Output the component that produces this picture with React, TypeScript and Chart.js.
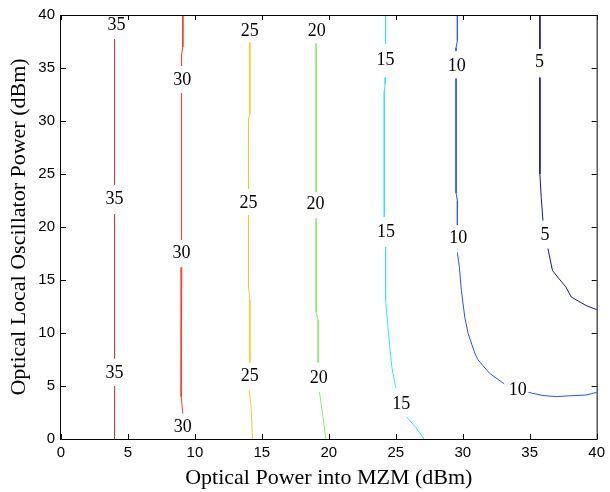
import { useEffect, useRef } from "react";
import { Chart, registerables } from "chart.js";

Chart.register(...registerables);

// contour levels and their colours (MATLAB jet-like)
const levels = [35, 30, 25, 20, 15, 10, 5];
const levelColors = ["#a84c4c", "#ff3a2a", "#ffc820", "#8ee86a", "#38e4f4", "#2a50ff", "#14149c"];

// contour lines: x / y values, null separates segments (gaps for labels)
const c35x = [4.0, 4.0, null, 4.0, 4.0, null, 4.0, 4.0];
const c35y = [37.7, 24.0, null, 21.2, 7.6, null, 5.0, 0];

const c30x = [9.1, 9.1, 9.0, 9.0, null, 9.0, 9.0, null, 9.02, 8.97, 9.1];
const c30y = [40, 37.0, 36.2, 35.2, null, 32.6, 18.8, null, 16.2, 4.0, 2.4];

const c25x = [14.1, 14.1, 14.0, 14.0, null, 14.0, 14.0, 14.1, 14.1, null, 14.05, 14.2, 14.3];
const c25y = [37.4, 30.7, 30.2, 23.6, null, 21.1, 14.4, 13.1, 7.2, null, 4.6, 3.0, 0];

const c20x = [19.05, 19.05, null, 19.05, 19.05, 19.2, 19.2, null, 19.3, 19.55, 19.78];
const c20y = [37.3, 23.3, null, 20.8, 12.0, 11.2, 7.2, null, 4.45, 2.2, 0];

const c15x = [24.24, 24.24, null, 24.24, 24.2, 24.14, 24.14, null, 24.24, 24.24, 24.46, 24.7, 25.0, null, 25.8, 26.45, 27.1];
const c15y = [40, 37.3, null, 34.1, 33.5, 32.8, 20.95, null, 18.1, 13.1, 9.96, 6.8, 4.8, null, 2.1, 1.16, 0];

const c10x = [29.6, 29.6, 29.5, 29.5, null, 29.5, 29.5, 29.6, 29.6, null, 29.6, 29.75, 29.9, 30.15, 30.4, 30.9, 31.15, 32.0, 33.1, null, 34.9, 36.0, 37.0, 38.0, 39.2, 40];
const c10y = [40, 37.6, 36.9, 36.6, null, 34.0, 23.2, 22.5, 20.2, null, 17.6, 16.2, 14.0, 11.5, 9.96, 8.1, 7.45, 6.2, 5.2, null, 4.4, 4.1, 4.0, 4.08, 4.15, 4.4];

const c5x = [35.76, 35.76, null, 35.76, 35.76, 35.86, 35.99, null, 36.36, 36.7, 37.2, 37.7, 38.1, 39.2, 40];
const c5y = [40, 36.8, null, 34.1, 25.0, 22.8, 20.6, null, 17.97, 15.9, 15.1, 14.35, 13.4, 12.6, 12.2];

const contourX = [c35x, c30x, c25x, c20x, c15x, c10x, c5x];
const contourY = [c35y, c30y, c25y, c20y, c15y, c10y, c5y];

// inline contour labels
const labelText = ["35", "35", "35", "30", "30", "30", "25", "25", "25", "20", "20", "20", "15", "15", "15", "10", "10", "10", "5", "5"];
const labelX = [4.15, 4.0, 4.0, 9.05, 9.0, 9.1, 14.1, 14.0, 14.1, 19.1, 19.0, 19.25, 24.24, 24.26, 25.4, 29.55, 29.66, 34.1, 35.74, 36.15];
const labelY = [39.0, 22.6, 6.2, 33.8, 17.5, 1.1, 38.5, 22.2, 5.9, 38.5, 22.1, 5.7, 35.7, 19.5, 3.3, 35.2, 18.9, 4.6, 35.5, 19.2];

const xTicks = [0, 5, 10, 15, 20, 25, 30, 35, 40];
const yTicks = [0, 5, 10, 15, 20, 25, 30, 35, 40];

const xTitle = "Optical Power into MZM (dBm)";
const yTitle = "Optical Local Oscillator Power (dBm)";

function buildDatasets() {
  const sets: any[] = [];
  contourX.forEach((xs, li) => {
    const ys = contourY[li];
    let cur: { x: number; y: number }[] = [];
    const flush = () => {
      if (cur.length) {
        sets.push({
          data: cur,
          showLine: true,
          borderColor: levelColors[li],
          borderWidth: 1,
          pointRadius: 0,
          fill: false,
          tension: 0,
        });
      }
      cur = [];
    };
    xs.forEach((x, i) => {
      const y = ys[i];
      if (x === null || y === null) flush();
      else cur.push({ x, y });
    });
    flush();
  });
  return sets;
}

const labelPlugin = {
  id: "contourLabels",
  afterDatasetsDraw(chart: any) {
    const { ctx, scales } = chart;
    ctx.save();
    ctx.font = '18px "Liberation Serif", "Times New Roman", serif';
    ctx.fillStyle = "#000";
    ctx.textAlign = "center";
    ctx.textBaseline = "middle";
    labelText.forEach((t, i) => {
      ctx.fillText(t, scales.x.getPixelForValue(labelX[i]), scales.y.getPixelForValue(labelY[i]));
    });
    ctx.restore();
  },
};

const boxPlugin = {
  id: "boxTicks",
  afterDraw(chart: any) {
    const { ctx, chartArea, scales } = chart;
    const { left, right, top, bottom } = chartArea;
    ctx.save();
    ctx.strokeStyle = "#000";
    ctx.lineWidth = 1;
    ctx.strokeRect(left - 0.5, top + 0.5, right - left + 1, bottom - top);
    const L = 5;
    ctx.beginPath();
    xTicks.forEach((v) => {
      const px = Math.round(scales.x.getPixelForValue(v)) + 0.5;
      ctx.moveTo(px, bottom);
      ctx.lineTo(px, bottom - L);
      ctx.moveTo(px, top);
      ctx.lineTo(px, top + L);
    });
    yTicks.forEach((v) => {
      const py = Math.round(scales.y.getPixelForValue(v)) + 0.5;
      ctx.moveTo(left, py);
      ctx.lineTo(left + L, py);
      ctx.moveTo(right, py);
      ctx.lineTo(right - L, py);
    });
    ctx.stroke();
    ctx.restore();
  },
};

export default function App() {
  const ref = useRef<HTMLCanvasElement | null>(null);
  useEffect(() => {
    if (!ref.current) return;
    const tickFont = { family: '"Liberation Sans", Arial, sans-serif', size: 15 };
    const titleFont = { family: '"Liberation Serif", "Times New Roman", serif', size: 22 };
    const chart = new Chart(ref.current, {
      type: "scatter",
      data: { datasets: buildDatasets() },
      options: {
        animation: false,
        responsive: false,
        layout: { padding: { top: 14, right: 11, left: 0, bottom: 0 } },
        plugins: { legend: { display: false }, tooltip: { enabled: false } },
        scales: {
          x: {
            type: "linear",
            min: 0,
            max: 40,
            afterBuildTicks: (s: any) => {
              s.ticks = xTicks.map((v) => ({ value: v }));
            },
            afterFit: (s: any) => {
              s.height = 53;
            },
            ticks: { font: tickFont, color: "#000", padding: 5, maxRotation: 0, autoSkip: false },
            grid: { display: false, drawTicks: false },
            border: { display: false },
            title: { display: true, text: xTitle, font: titleFont, color: "#000", padding: { top: 0, bottom: 1 } },
          },
          y: {
            type: "linear",
            min: 0,
            max: 40,
            afterBuildTicks: (s: any) => {
              s.ticks = yTicks.map((v) => ({ value: v }));
            },
            afterFit: (s: any) => {
              s.width = 61;
            },
            ticks: { font: tickFont, color: "#000", padding: 6, autoSkip: false },
            grid: { display: false, drawTicks: false },
            border: { display: false },
            title: { display: true, text: yTitle, font: titleFont, color: "#000", padding: { top: 6, bottom: 0 } },
          },
        },
      },
      plugins: [labelPlugin, boxPlugin],
    } as any);
    return () => chart.destroy();
  }, []);
  return (
    <div style={{ position: "fixed", left: 0, top: 0, width: 610, height: 492, background: "#fff" }}>
      <canvas ref={ref} width={610} height={492} style={{ display: "block" }} />
    </div>
  );
}
